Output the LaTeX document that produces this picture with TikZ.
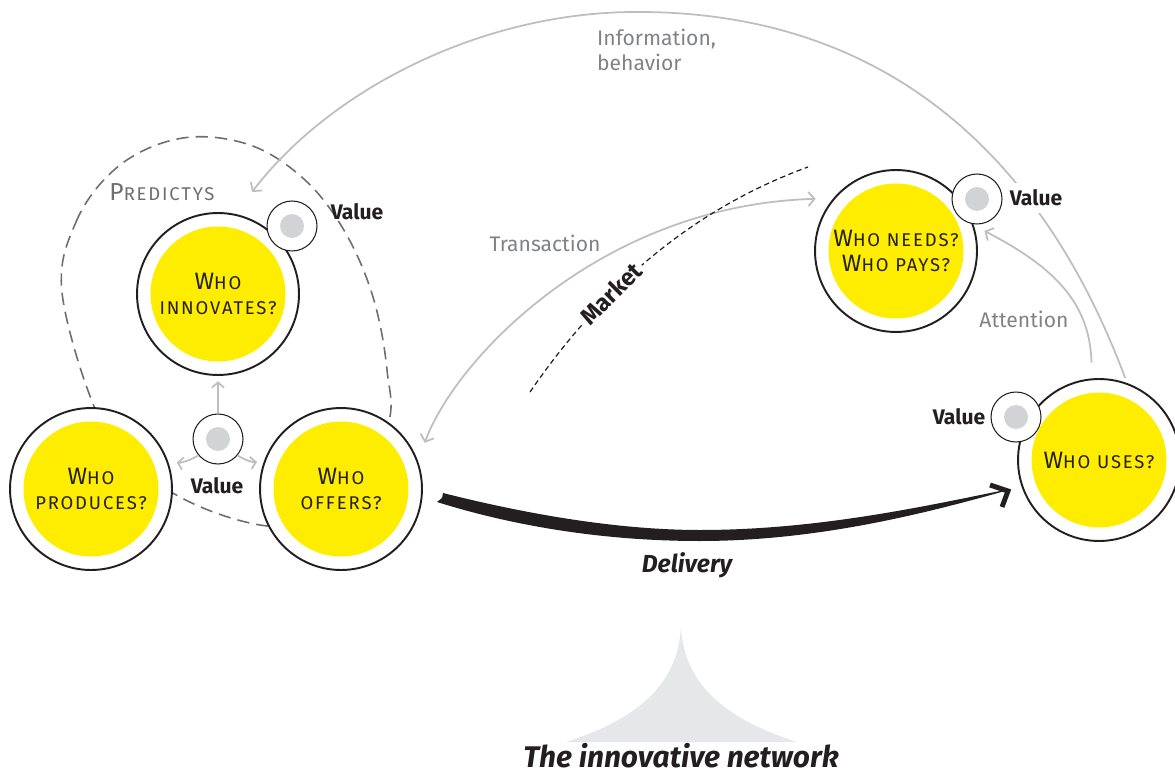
\documentclass[tikz,border=0pt]{standalone}
\usepackage{fontspec}
\setmainfont{Fira Sans}
\setsansfont{Fira Sans}
\newfontfamily\capfont[LetterSpace=10]{Fira Sans}
\usetikzlibrary{arrows.meta,positioning,calc}
\definecolor{sun}{HTML}{FFED00}
\definecolor{ink}{HTML}{231F20}
\definecolor{linegray}{HTML}{BCBEC0}
\definecolor{txtgray}{HTML}{808285}
\definecolor{dashgray}{HTML}{6D6E71}
\definecolor{dotgray}{HTML}{D1D3D4}
\definecolor{tentgray}{HTML}{E6E7E8}
\newcommand{\smc}[1]{{\fontsize{10.5}{14}\selectfont #1}}

\begin{document}
\begin{tikzpicture}[
  x=0.02cm, y=-0.02cm,
  who/.style={circle,draw=ink,line width=1.1pt,fill=white,minimum size=3.24cm,inner sep=0pt},
  core/.style={circle,fill=sun,minimum size=2.7cm,inner sep=0pt,align=center,text=ink,
    font=\capfont\fontsize{13.5}{14}\selectfont},
  val/.style={circle,draw=ink,line width=0.6pt,fill=white,minimum size=1cm,inner sep=0pt},
  dot/.style={circle,fill=dotgray,minimum size=0.48cm,inner sep=0pt},
  vlab/.style={font=\bfseries\fontsize{12}{14}\selectfont,text=ink},
  lbl/.style={font=\fontsize{12}{14}\selectfont,text=txtgray,align=left},
  flow/.style={draw=linegray,line width=1pt,-{Straight Barb[length=3.5pt,width=8pt]}},
  small/.style={draw=linegray,line width=1pt,-{Straight Barb[length=3pt,width=7pt]}},
  font=\sffamily
]
\useasboundingbox (0,0) rectangle (1175,773);

% the network below
\fill[tentgray] (681,625) .. controls (683,690) and (735,722) .. (797,742)
  -- (566,742) .. controls (628,722) and (679,690) .. (681,625) -- cycle;
\node[font=\bfseries\itshape\fontsize{17}{20}\selectfont,text=ink,anchor=base] (net) at (681,767) {The innovative network};

% Predictys boundary
\draw[dashgray,line width=0.9pt,dash pattern=on 7pt off 4pt]
  plot[smooth cycle,tension=0.6] coordinates {(63,300) (76,222) (120,165) (183,138) (250,145)
  (305,180) (345,232) (373,297) (387,370) (386,430) (330,515) (267,526) (180,497) (110,440)};
\node[font=\capfont\fontsize{14}{16}\selectfont,text=dashgray] (pred) at (162,192) {P{\fontsize{10.5}{16}\selectfont REDICTYS}};

% actors
\node[who] (inn) at (218,294) {};
\node[core] (innc) at (inn) {W\smc{HO}\\\smc{INNOVATES?}};
\node[who] (prod) at (91,489) {};
\node[core] (prodc) at (prod) {W\smc{HO}\\\smc{PRODUCES?}};
\node[who] (off) at (341,489) {};
\node[core] (offc) at (off) {W\smc{HO}\\\smc{OFFERS?}};
\node[who] (need) at (896,251) {};
\node[core] (needc) at (need) {W\smc{HO NEEDS?}\\W\smc{HO PAYS?}};
\node[who] (use) at (1099,460) {};
\node[core] (usec) at (use) {W\smc{HO USES?}};

% value points
\node[val] (innv) at (292,226) {};
\node[dot] at (innv) {};
\node[val] (midv) at (218,439) {};
\node[dot] at (midv) {};
\node[val] (needv) at (977,199) {};
\node[dot] at (needv) {};
\node[val] (usev) at (1016,417) {};
\node[dot] at (usev) {};

% flows
\coordinate (predin) at (252,192);
\draw[flow,shorten <=3pt] (use.70) .. controls (1040,150) and (880,10) .. (633,12)
  .. controls (480,13) and (330,90) .. (predin);
\draw[flow,{Straight Barb[length=3.5pt,width=8pt]}-{Straight Barb[length=3.5pt,width=8pt]},
  shorten <=11pt,shorten >=10pt] (off.20) .. controls (455,360) and (600,205) .. (need.140);
\draw[flow,shorten <=9pt,shorten >=9pt] (use.95) .. controls (1090,300) and (1050,265) .. (needv.-105);
\draw[small,shorten >=3pt] (midv.north) -- (inn.south);
\draw[small,shorten >=5pt] (midv.220) to[bend left=20] (prod.20);
\draw[small,shorten >=4pt] (midv.-40) to[bend right=20] (off.160);

% market
\draw[ink,line width=0.7pt,dash pattern=on 3pt off 2pt] (530,392) .. controls (600,290) and (690,210) .. (808,167)
  node[pos=0.35,sloped,fill=white,inner sep=2pt,font=\bfseries\fontsize{13.5}{14}\selectfont,text=ink] (mkt) {Market};

% delivery
\fill[ink] (443,493) .. controls (530,515) and (620,530) .. (700,530)
  .. controls (820,530) and (930,505) .. (1005,490)
  -- (1005,491) .. controls (930,512) and (820,541) .. (700,541)
  .. controls (610,541) and (520,528) .. (437,502) -- (442,498) -- cycle;
\draw[ink,line width=2.8pt,miter limit=4] (990,485) -- (1008,491) -- (1002,507);
\node[font=\bfseries\itshape\fontsize{14}{16}\selectfont,text=ink,anchor=base] (deliv) at (687,572) {Delivery};

% labels
\node[lbl,anchor=west] (info) at (591,50) {Information,\\behavior};
\node[lbl] (trans) at (545,243) {Transaction};
\node[lbl] (att) at (1024,319) {Attention};
\node[vlab] (innl) at (357,212) {Value};
\node[vlab] (midl) at (217,486) {Value};
\node[vlab,fill=white,inner sep=4pt] (needl) at (1036,198) {Value};
\node[vlab] (usel) at (959,417) {Value};
\end{tikzpicture}
\end{document}
